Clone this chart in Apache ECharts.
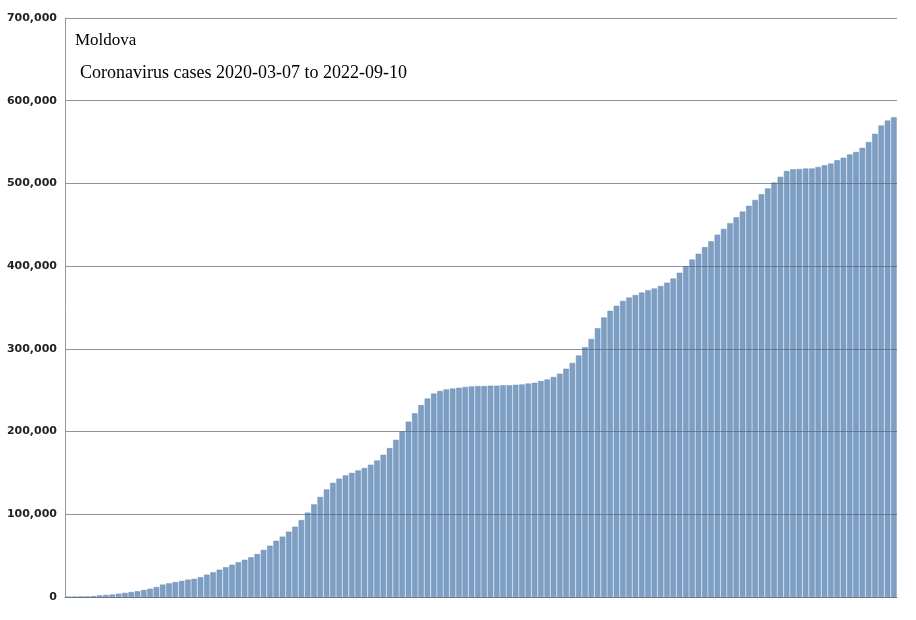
<!DOCTYPE html><html><head><meta charset="utf-8"><script src="https://cdn.jsdelivr.net/npm/echarts@6/dist/echarts.min.js"></script></head><body style="margin:0;background:#fff"><div id="c" style="width:916px;height:620px"></div><script>
const weeks=[];const start=new Date(Date.UTC(2020,2,7));
const valuesK=[0,0.1,0.3,0.6,1,2,2.5,3,4,5,6,7,8.5,10,12,15,16.5,18,19.5,21,22,24,27,30,33,36,39,42,45,48,52,57,62,68,73,79,85,93,102,112,121,130,138,143,147,150,153,156,160,165,172,180,190,200,212,222,232,240,246,249,251,252,253,254,254.5,255,255,255.5,255.5,256,256,256.5,257,258,259,261,263,266,270,276,283,292,302,312,325,338,346,352,358,362,365,368,371,373,376,380,385,392,400,408,415,423,430,438,445,452,459,466,473,480,487,494,501,508,515,517,517.5,518,518,520,522,524,528,531,535,538,543,550,560,570,576,580];
for(let i=0;i<valuesK.length;i++){const d=new Date(start.getTime()+i*7*86400000);weeks.push(d.toISOString().slice(0,10));}
const cases=valuesK.map(v=>v*1000);
const chart=echarts.init(document.getElementById('c'));
chart.setOption({animation:false,
grid:{left:65,right:19,top:18,bottom:23},
graphic:[{type:'text',left:75,top:32,style:{text:'Moldova',font:'17px "Liberation Serif"',fill:'#000'},z:10},
{type:'text',left:80,top:64,style:{text:'Coronavirus cases 2020-03-07 to 2022-09-10',font:'18px "Liberation Serif"',fill:'#000'},z:10}],
xAxis:{type:'category',data:weeks,axisLabel:{show:false},axisTick:{show:false},axisLine:{lineStyle:{color:'#999'}}},
yAxis:{type:'value',min:0,max:700000,interval:100000,z:5,axisLine:{show:true,lineStyle:{color:'#999'}},axisTick:{show:false},
axisLabel:{formatter:v=>v.toLocaleString('en-US'),fontFamily:'DejaVu Sans',fontWeight:'bold',fontSize:11,color:'#222',margin:8},
splitLine:{lineStyle:{color:'#55667a',width:1,opacity:0.7}}},
series:[{type:'bar',data:cases,barCategoryGap:'12%',z:2,itemStyle:{color:'#7d9fc4',borderColor:'#6d8db3',borderWidth:0.5}}]});
</script></body></html>
